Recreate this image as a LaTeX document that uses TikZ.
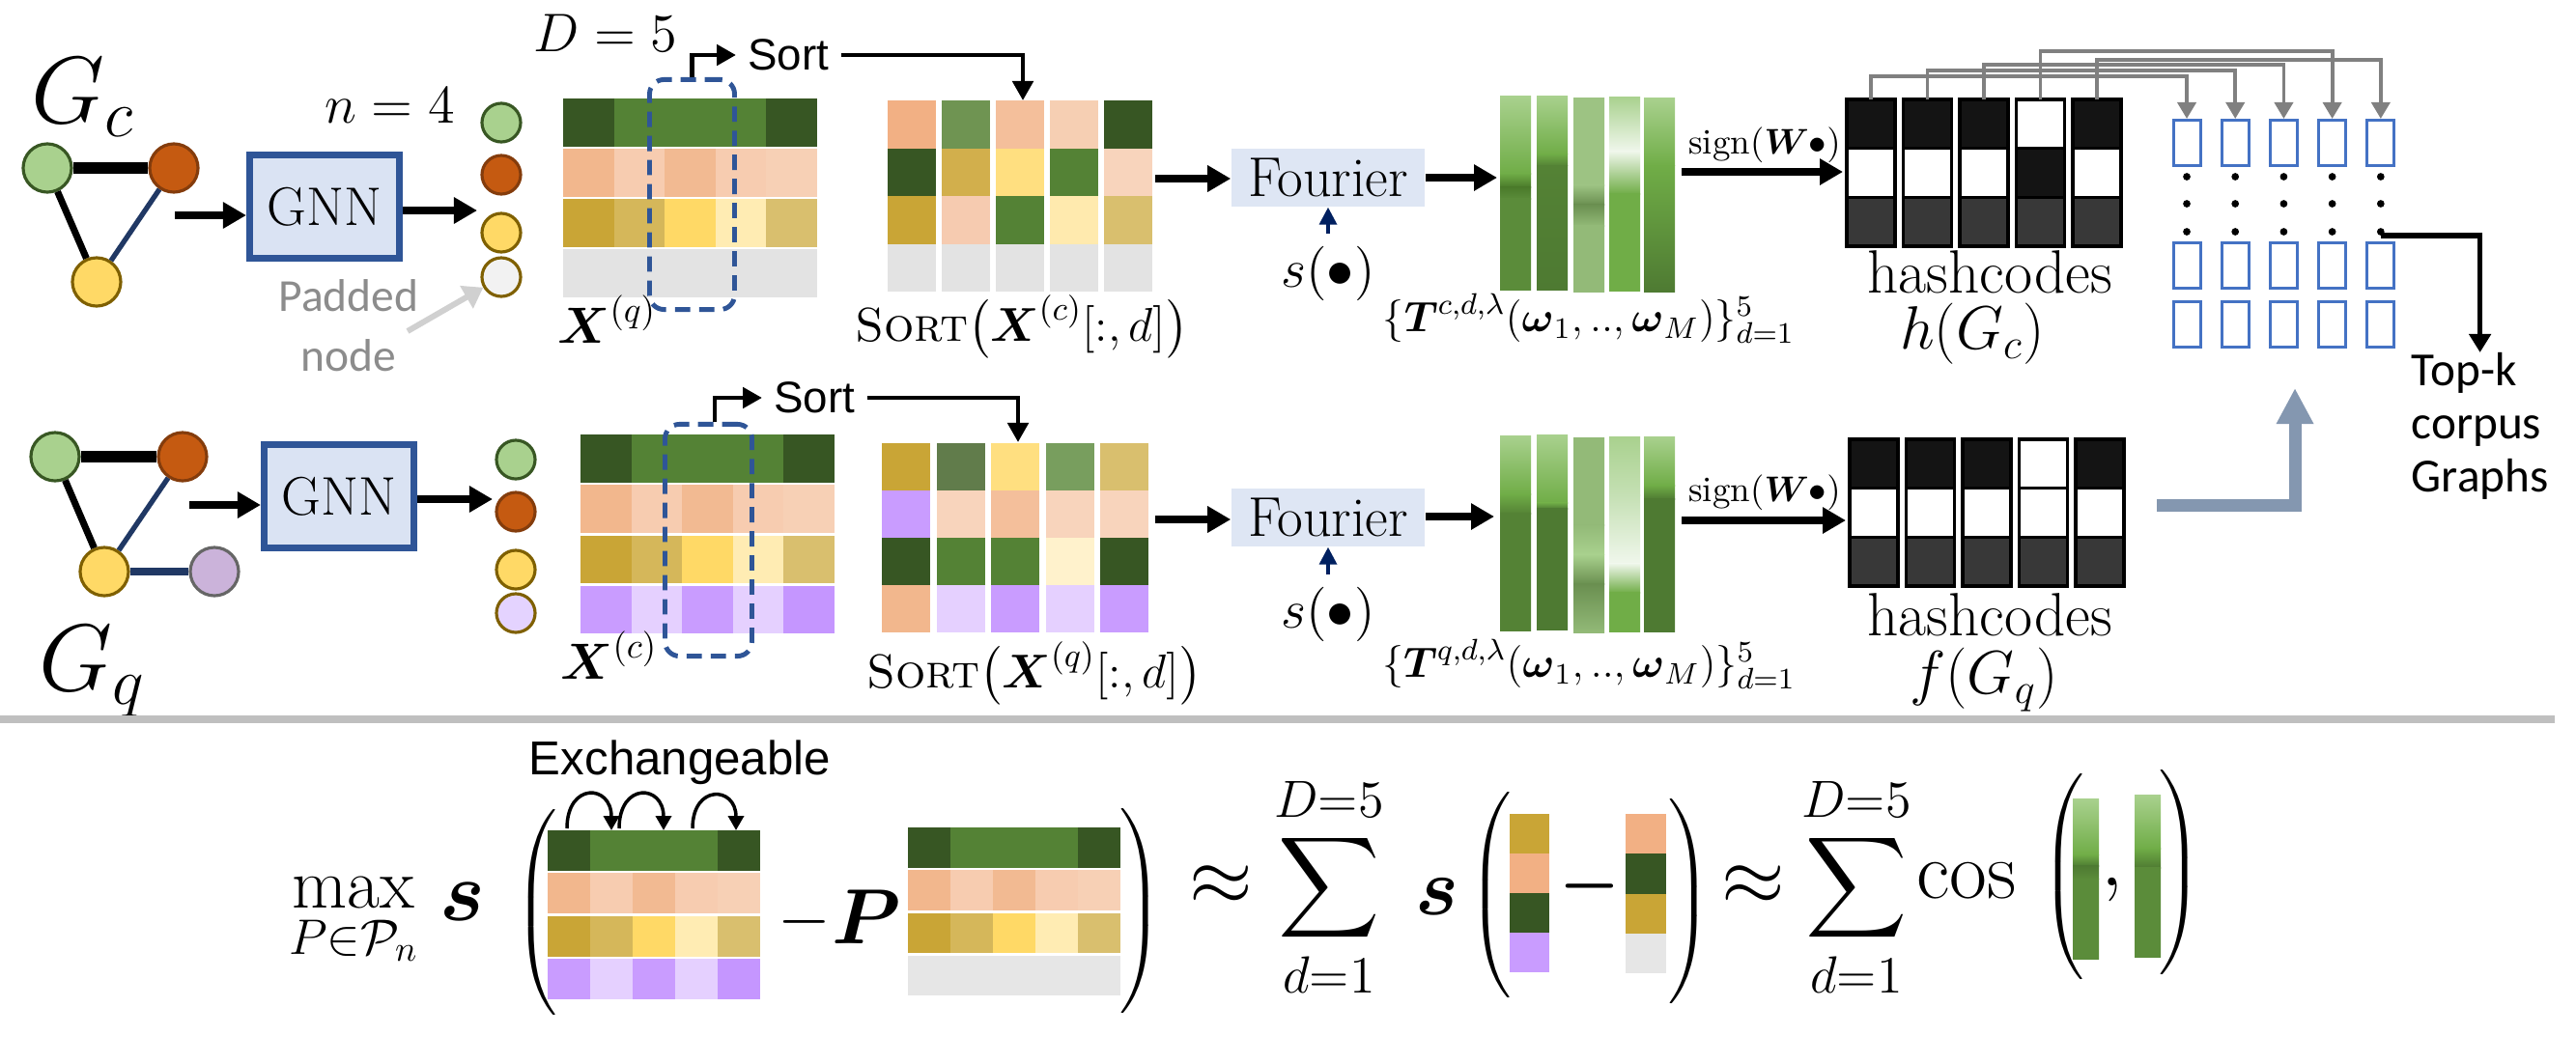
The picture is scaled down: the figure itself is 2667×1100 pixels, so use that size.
\documentclass[tikz,border=0pt]{standalone}
\usepackage{fix-cm}
\usepackage{amsmath}
\usepackage{fontspec}
\newfontfamily\calibrifont{Carlito}
\newfontfamily\arialfont{Liberation Sans}
\usetikzlibrary{arrows.meta,positioning}

\definecolor{gnnblue}{HTML}{2F5597}
\definecolor{gnnfill}{HTML}{DAE3F3}
\definecolor{fourfill}{HTML}{DEE6F4}
\definecolor{navy}{HTML}{002060}
\definecolor{edgenavy}{HTML}{203864}
\definecolor{ngreen}{HTML}{A9D18E}
\definecolor{ngreenb}{HTML}{385723}
\definecolor{norange}{HTML}{C55A11}
\definecolor{norangeb}{HTML}{843C0C}
\definecolor{nyellow}{HTML}{FFD966}
\definecolor{ngold}{HTML}{7F6000}
\definecolor{npurple}{HTML}{CBB3DA}
\definecolor{nlav}{HTML}{E4D3FF}
\definecolor{padfill}{HTML}{F2F2F2}
\definecolor{padgray}{HTML}{D0D0D0}
\definecolor{padtext}{HTML}{8C8C8C}
\definecolor{linkgray}{HTML}{808080}
\definecolor{boxblue}{HTML}{4472C4}
\definecolor{retblue}{HTML}{8497B0}
\definecolor{sepgray}{HTML}{BFBFBF}
\definecolor{hk}{HTML}{141414}
\definecolor{hd}{HTML}{383838}
\definecolor{fdk}{HTML}{375623}
\definecolor{fmd}{HTML}{548235}
\definecolor{fo1}{HTML}{F2B78D}
\definecolor{fo2}{HTML}{F7CCB0}
\definecolor{fo3}{HTML}{F2BA92}
\definecolor{fo4}{HTML}{F7D0B5}
\definecolor{fy1}{HTML}{C9A536}
\definecolor{fy2}{HTML}{D5B75A}
\definecolor{fy3}{HTML}{FFD966}
\definecolor{fy4}{HTML}{FFECB3}
\definecolor{fy5}{HTML}{D9BF6E}
\definecolor{fgy}{HTML}{E3E3E3}
\definecolor{fgx}{HTML}{E6E6E6}
\definecolor{fp1}{HTML}{C99CFF}
\definecolor{fp2}{HTML}{E5D0FF}
\definecolor{fp3}{HTML}{C596FF}
\definecolor{so1}{HTML}{F2B084}
\definecolor{so2}{HTML}{F4BF9B}
\definecolor{so3}{HTML}{F6CFB3}
\definecolor{so4}{HTML}{F8D4BC}
\definecolor{so5}{HTML}{F6CBB0}
\definecolor{sg1}{HTML}{6F9452}
\definecolor{sg2}{HTML}{617C4B}
\definecolor{sg3}{HTML}{789E5E}
\definecolor{sy1}{HTML}{D2AF4C}
\definecolor{sy2}{HTML}{FFDF80}
\definecolor{sy3}{HTML}{FFEAAE}
\definecolor{sy4}{HTML}{FFF2CC}
\definecolor{gl}{HTML}{A9D18E}
\definecolor{gm}{HTML}{70AD47}
\definecolor{gd}{HTML}{4A7A2A}
\definecolor{gb}{HTML}{5B8C3A}
\definecolor{gs}{HTML}{548235}
\definecolor{gn}{HTML}{4E7A32}
\definecolor{gp}{HTML}{9DC383}
\definecolor{gq}{HTML}{93BA78}
\definecolor{gx}{HTML}{6A8F50}
\definecolor{gw}{HTML}{F0F7EC}
\definecolor{gc}{HTML}{C5E0B4}

\newcommand{\fsz}[1]{\fontsize{#1}{#1}\selectfont}
\newcommand{\tallL}[1]{$\left(\vrule height #1 depth #1 width 0pt\right.$}
\newcommand{\tallR}[1]{$\left.\vrule height #1 depth #1 width 0pt\right)$}
\newcommand{\featmat}[7]{%
  \foreach \row [count=\j from 0] in {#7} {
    \foreach \c [count=\i from 0] in \row {
      \fill[\c] ({#1+\i*#3},{#2+\j*#5}) rectangle ++(#4,#6);
    }
  }
}
\newcommand{\gbar}[5]{%
  \foreach \fa/\fb/\ca/\cb in {#5}
    \shade[top color=\ca, bottom color=\cb] (#1,{#2+\fa*#4}) rectangle ({#1+#3},{#2+\fb*#4+0.6});
}
\newcommand{\hashcol}[5]{%
  \foreach \c [count=\j from 0] in {#3,#4,#5}
    \filldraw[fill=\c, draw=black, line width=1pt] (#1,{#2+\j*50.7}) rectangle ++(50,50.7);
}

\tikzset{
  gnode/.style={circle, minimum size=0.5cm, inner sep=0pt, line width=0.9pt},
  enode/.style={circle, minimum size=0.4cm, inner sep=0pt, line width=0.9pt},
  gnnbox/.style={draw=gnnblue, fill=gnnfill, line width=2pt, minimum width=1.55cm,
    minimum height=1.07cm, font=\fsz{16}},
  fourbox/.style={fill=fourfill, minimum width=2cm, minimum height=0.6cm, inner sep=0pt,
    font=\fsz{16.5}},
  fatarrow/.style={line width=2.3pt, -{Triangle[length=2.4mm,width=2.6mm]}},
  sortarrow/.style={line width=1.4pt, -{Triangle[length=2mm,width=2.1mm]}},
  sarrow/.style={navy, line width=1pt, -{Triangle[length=1.8mm,width=1.8mm]}},
  linkarrow/.style={linkgray, line width=1.1pt, -{Triangle[length=1.7mm,width=1.9mm]}},
  blkarrow/.style={line width=1.5pt, -{Triangle[length=1.9mm,width=2.2mm]}},
  retarrow/.style={retblue, line width=3.7pt, -{Triangle[length=3.7mm,width=3.6mm]}},
  padarrow/.style={padgray, line width=1.7pt, -{Triangle[length=2mm,width=2.6mm]}},
  exarrow/.style={line width=1pt, -{Triangle[length=1.5mm,width=1.6mm]}},
  colsel/.style={draw=gnnblue, line width=1.4pt, dash pattern=on 4.5pt off 2.6pt,
    rounded corners=0.15cm},
  corpbox/.style={draw=boxblue, line width=0.85pt, minimum width=0.28cm,
    minimum height=0.47cm, inner sep=0pt},
  sortlab/.style={font=\arialfont\fsz{13}},
}

\begin{document}
\begin{tikzpicture}[x=0.01cm, y=-0.01cm]
\useasboundingbox[fill=white] (0,0) rectangle (2667,1100);

\node[gnode, fill=ngreen, draw=ngreenb] (c1) at (49,174) {};
\node[gnode, fill=norange, draw=norangeb] (c2) at (180,174) {};
\node[gnode, fill=nyellow, draw=ngold] (c3) at (100,292) {};
\draw[line width=3.3pt] (c1) -- (c2);
\draw[line width=2pt] (c1) -- (c3);
\draw[edgenavy, line width=1.5pt] (c2) -- (c3);
\node[anchor=base west, font=\fsz{28}] (gclab) at (20,127) {$G_c$};

\node[gnode, fill=ngreen, draw=ngreenb] (q1) at (57,473) {};
\node[gnode, fill=norange, draw=norangeb] (q2) at (189,473) {};
\node[gnode, fill=nyellow, draw=ngold] (q3) at (108,592) {};
\node[gnode, fill=npurple, draw=black!60] (q4) at (222,592) {};
\draw[line width=3.3pt] (q1) -- (q2);
\draw[line width=2pt] (q1) -- (q3);
\draw[edgenavy, line width=1.5pt] (q2) -- (q3);
\draw[edgenavy, line width=2.4pt] (q3) -- (q4);
\node[anchor=base west, font=\fsz{28}] (gqlab) at (28,715) {$G_q$};

\node[gnnbox] (gnnc) at (336,214) {GNN};
\node[gnnbox] (gnnq) at (351,514) {GNN};
\node[anchor=base west, font=\fsz{16}] (nlab) at (324,127) {$n=4$};
\coordinate (gcout) at (181,223);
\coordinate (gqout) at (196,523);
\draw[fatarrow] (gcout) -- (gcout -| gnnc.west);
\draw[fatarrow] (gqout) -- (gqout -| gnnq.west);

\node[enode, fill=ngreen, draw=ngreenb] (ec1) at (519,127) {};
\node[enode, fill=norange, draw=norangeb] (ec2) at (519,181) {};
\node[enode, fill=nyellow, draw=ngold] (ec3) at (519,241) {};
\node[enode, fill=padfill, draw=ngold] (ec4) at (519,287) {};
\node[enode, fill=ngreen, draw=ngreenb] (eq1) at (534,476) {};
\node[enode, fill=norange, draw=norangeb] (eq2) at (534,530) {};
\node[enode, fill=nyellow, draw=ngold] (eq3) at (534,590) {};
\node[enode, fill=nlav, draw=ngold] (eq4) at (534,635) {};
\coordinate (ecin) at (494,218);
\coordinate (eqin) at (510,517);
\draw[fatarrow] (gnnc.east |- ecin) -- (ecin);
\draw[fatarrow] (gnnq.east |- eqin) -- (eqin);

\node[align=center, text=padtext, font=\calibrifont\fontsize{13.5}{17.6}\selectfont] (padlab) at (361,337) {Padded\\node};
\coordinate (padfrom) at (422,343);
\draw[padarrow] (padfrom) -- (ec4);

\node[anchor=base west, font=\fsz{16}] (dlab) at (540,53) {$D=5$};

\featmat{583}{102}{52.6}{52.6}{52}{50}{{fdk,fmd,fmd,fmd,fdk},{fo1,fo2,fo3,fo2,fo4},{fy1,fy2,fy3,fy4,fy5},{fgy,fgy,fgy,fgy,fgy}}
\featmat{601}{450}{52.6}{52.6}{52.3}{49.5}{{fdk,fmd,fmd,fmd,fdk},{fo1,fo2,fo3,fo2,fo4},{fy1,fy2,fy3,fy4,fy5},{fp1,fp2,fp1,fp2,fp3}}
\node[colsel, minimum width=0.88cm, minimum height=2.38cm] (selc) at (716.5,201.5) {};
\node[colsel, minimum width=0.9cm, minimum height=2.4cm] (selq) at (733.5,559.5) {};
\node[anchor=base west, font=\fsz{15}] (xq) at (565,355) {$\boldsymbol{X}^{(q)}$};
\node[anchor=base west, font=\fsz{15}] (xc) at (568,703) {$\boldsymbol{X}^{(c)}$};

\featmat{919}{104}{56}{50}{49.5}{49.5}{{so1,sg1,so2,so3,fdk},{fdk,sy1,sy2,fmd,so4},{fy1,so5,fmd,sy3,fy5},{fgy,fgy,fgy,fgy,fgy}}
\featmat{913}{459}{56.5}{50}{49}{49}{{fy1,sg2,sy2,sg3,fy5},{fp1,so4,so2,so4,so4},{fdk,fmd,fmd,sy4,fdk},{fo1,fp2,fp1,fp2,fp1}}
\node[anchor=base, font=\fsz{14}] (srtc) at (1058,353) {\textsc{Sort}$\bigl(\boldsymbol{X}^{(c)}[:,d]\bigr)$};
\node[anchor=base, font=\fsz{14}] (srtq) at (1071,712) {\textsc{Sort}$\bigl(\boldsymbol{X}^{(q)}[:,d]\bigr)$};

\node[sortlab, anchor=west] (sortc) at (762,57) {Sort};
\node[sortlab, anchor=west] (sortq) at (789,412) {Sort};
\coordinate (scol) at (1059,104);
\coordinate (qcol) at (1054,458);
\draw[sortarrow] (selc.north) |- (sortc.west);
\draw[sortarrow] (sortc.east) -| (scol);
\draw[sortarrow] (selq.north -| 740,0) |- (sortq.west);
\draw[sortarrow] (sortq.east) -| (qcol);

\node[fourbox] (fc) at (1375,184) {Fourier};
\node[fourbox] (fq) at (1375,536) {Fourier};
\coordinate (scout) at (1196,185);
\coordinate (sqout) at (1196,538);
\draw[fatarrow] (scout) -- (scout -| fc.west);
\draw[fatarrow] (sqout) -- (sqout -| fq.west);
\node[font=\fsz{16}] (sc) at (1375,283) {$s(\bullet)$};
\node[font=\fsz{16}] (sq) at (1375,636) {$s(\bullet)$};
\draw[sarrow] (sc.north) -- (fc.south);
\draw[sarrow] (sq.north) -- (fq.south);
\coordinate (tcin) at (1550,184);
\coordinate (tqin) at (1547,535);
\draw[fatarrow] (fc.east |- tcin) -- (tcin);
\draw[fatarrow] (fq.east |- tqin) -- (tqin);

\gbar{1553}{99}{32}{201}{0/0.4/gl/gm,0.4/0.47/gm/gd,0.47/0.53/gd/gb,0.53/1/gb/gb}
\gbar{1591}{99}{32}{201}{0/0.3/gl/gm,0.3/0.36/gm/gs,0.36/1/gs/gn}
\gbar{1629}{101}{32}{201}{0/0.45/gp/gp,0.45/0.55/gp/gx,0.55/0.66/gx/gq,0.66/1/gq/gq}
\gbar{1666}{100}{32}{201}{0/0.28/gl/gw,0.28/0.5/gw/gm,0.5/1/gm/gm}
\gbar{1702}{101}{32}{201}{0/0.35/gl/gm,0.35/1/gm/gn}
\gbar{1553}{451}{32}{202}{0/0.3/gl/gm,0.3/0.4/gm/gs,0.4/1/gs/gs}
\gbar{1591}{450}{32}{202}{0/0.35/gl/gm,0.35/0.38/gm/gn,0.38/1/gn/gn}
\gbar{1629}{453}{32}{202}{0/0.45/gq/gq,0.45/0.6/gq/gl,0.6/0.75/gl/gx,0.75/1/gx/gq}
\gbar{1666}{452}{32}{202}{0/0.3/gl/gc,0.3/0.65/gc/gw,0.65/0.8/gw/gm,0.8/1/gm/gm}
\gbar{1702}{452}{32}{202}{0/0.25/gl/gm,0.25/0.32/gm/gn,0.32/1/gn/gn}
\node[font=\fsz{12.5}] (tc) at (1645,330) {$\{\boldsymbol{T}^{c,d,\lambda}(\boldsymbol{\omega}_1,..,\boldsymbol{\omega}_M)\}_{d=1}^{5}$};
\node[font=\fsz{12.5}] (tq) at (1645,688) {$\{\boldsymbol{T}^{q,d,\lambda}(\boldsymbol{\omega}_1,..,\boldsymbol{\omega}_M)\}_{d=1}^{5}$};

\node[font=\fsz{10.5}] (wc) at (1827,150) {$\mathrm{sign}(\boldsymbol{W}\bullet)$};
\node[font=\fsz{10.5}] (wq) at (1827,510) {$\mathrm{sign}(\boldsymbol{W}\bullet)$};
\coordinate (wcl) at (1741,178);
\coordinate (wcr) at (1908,178);
\coordinate (wql) at (1741,539);
\coordinate (wqr) at (1911,539);
\draw[fatarrow] (wcl) -- (wcr);
\draw[fatarrow] (wql) -- (wqr);

\hashcol{1912}{103}{hk}{white}{hd}
\hashcol{1970.5}{103}{hk}{white}{hd}
\hashcol{2029}{103}{hk}{white}{hd}
\hashcol{2087.5}{103}{white}{hk}{hd}
\hashcol{2146}{103}{hk}{white}{hd}
\hashcol{1915}{455}{hk}{white}{hd}
\hashcol{1973.5}{455}{hk}{white}{hd}
\hashcol{2032}{455}{hk}{white}{hd}
\hashcol{2090.5}{455}{white}{white}{hd}
\hashcol{2149}{455}{hk}{white}{hd}
\node[anchor=base, font=\fsz{18}] (hcl) at (2060,303) {hashcodes};
\node[font=\fsz{18}] (hgc) at (2042,346) {$h(G_c)$};
\node[anchor=base, font=\fsz{18}] (hql) at (2060,658) {hashcodes};
\node[font=\fsz{18}] (fgq) at (2054,704) {$f(G_q)$};

\foreach \i in {1,...,5} {
  \coordinate (hc\i) at ({1937+(\i-1)*58.5},103);
  \node[corpbox] (bx\i) at ({2264+(\i-1)*50.2},148) {};
  \node[corpbox] (by\i) at ({2264+(\i-1)*50.2},275) {};
  \node[corpbox] (bz\i) at ({2264+(\i-1)*50.2},336) {};
  \foreach \y in {183,211,240}
    \fill ({2264+(\i-1)*50.2},\y) circle[radius=1.1pt];
}
\foreach \i/\lev in {1/79,2/73,3/67,4/53,5/62} {
  \coordinate (lv\i) at (0,\lev);
  \draw[linkarrow] (hc\i) -- (hc\i |- lv\i) -| (bx\i.north);
}
\node[anchor=north west, align=left, inner sep=0pt, font=\calibrifont\fontsize{14}{15.6}\selectfont] (topk) at (2496,365) {Top-k\\corpus\\Graphs};
\coordinate (lastdot) at (2465,244);
\draw[blkarrow] (lastdot) -| (topk.north);
\coordinate (qout) at (2233,523);
\coordinate (cin) at (2376,402);
\draw[retarrow] (qout) -| (cin);

\coordinate (sepl) at (0,745);
\coordinate (sepr) at (2645,745);
\draw[sepgray, line width=2pt] (sepl) -- (sepr);

\node[anchor=base, font=\fsz{21}] (fmax) at (366,940) {$\max\limits_{P\in\mathcal{P}_n}$};
\node[anchor=base, font=\fsz{25}] (fs1) at (479,953) {$\boldsymbol{s}$};
\node[font=\fsz{14}] (lp1) at (557,945) {\tallL{25pt}};
\featmat{567}{860}{44}{44}{44.3}{42}{{fdk,fmd,fmd,fmd,fdk},{fo1,fo2,fo3,fo2,fo4},{fy1,fy2,fy3,fy4,fy5},{fp1,fp2,fp1,fp2,fp3}}
\node[font=\arialfont\fsz{14}] (exlab) at (704,790) {Exchangeable};
\coordinate (ex1) at (587,858);
\coordinate (ex2) at (633,860);
\coordinate (ex3) at (641,858);
\coordinate (ex4) at (687,860);
\coordinate (ex5) at (717,858);
\coordinate (ex6) at (762,860);
\draw[exarrow] (ex1) .. controls +(0,-48) and +(0,-48) .. (ex2);
\draw[exarrow] (ex3) .. controls +(0,-48) and +(0,-48) .. (ex4);
\draw[exarrow] (ex5) .. controls +(0,-46) and +(0,-46) .. (ex6);
\node[font=\fsz{20}] (fm1) at (833,955) {$-$};
\node[anchor=base, font=\fsz{23}] (fP) at (897,977) {$\boldsymbol{P}$};
\featmat{940}{857}{44}{44}{44.3}{41.5}{{fdk,fmd,fmd,fmd,fdk},{fo1,fo2,fo3,fo2,fo4},{fy1,fy2,fy3,fy4,fy5},{fgx,fgx,fgx,fgx,fgx}}
\node[font=\fsz{14}] (rp1) at (1180,944) {\tallR{27pt}};
\node[font=\fsz{24}] (ap1) at (1264,917) {$\approx$};
\node[font=\fsz{22}] (sum1) at (1376,919) {$\displaystyle\sum_{d=1}^{D=5}$};
\node[anchor=base, font=\fsz{24}] (fs2) at (1488,947) {$\boldsymbol{s}$};
\node[font=\fsz{14}] (lp2) at (1545,927) {\tallL{25pt}};
\featmat{1563}{843}{41}{41}{41}{41}{{fy1},{so1},{fdk},{fp1}}
\node[font=\fsz{20}] (fm2) at (1646,918) {$\boldsymbol{-}$};
\featmat{1683}{843}{42}{42}{41.3}{41.3}{{so1},{fdk},{fy1},{fgx}}
\node[font=\fsz{14}] (rp2) at (1748,934) {\tallR{27pt}};
\node[font=\fsz{24}] (ap2) at (1815,917) {$\approx$};
\node[font=\fsz{22}] (sum2) at (1922,919) {$\displaystyle\sum_{d=1}^{D=5}$};
\node[anchor=base, font=\fsz{24}] (fcos) at (2036,930) {$\cos$};
\node[font=\fsz{14}] (lp3) at (2138,908) {\tallL{25pt}};
\gbar{2146}{827}{27}{166}{0/0.35/gl/gm,0.35/0.42/gm/gn,0.42/0.5/gn/gb,0.5/1/gb/gb}
\node[anchor=base, font=\fsz{24}] (fcom) at (2187,917) {$,$};
\gbar{2210}{823}{27}{168}{0/0.33/gl/gm,0.33/0.45/gm/gn,0.45/1/gb/gb}
\node[font=\fsz{14}] (rp3) at (2256,904) {\tallR{27pt}};
\end{tikzpicture}
\end{document}
